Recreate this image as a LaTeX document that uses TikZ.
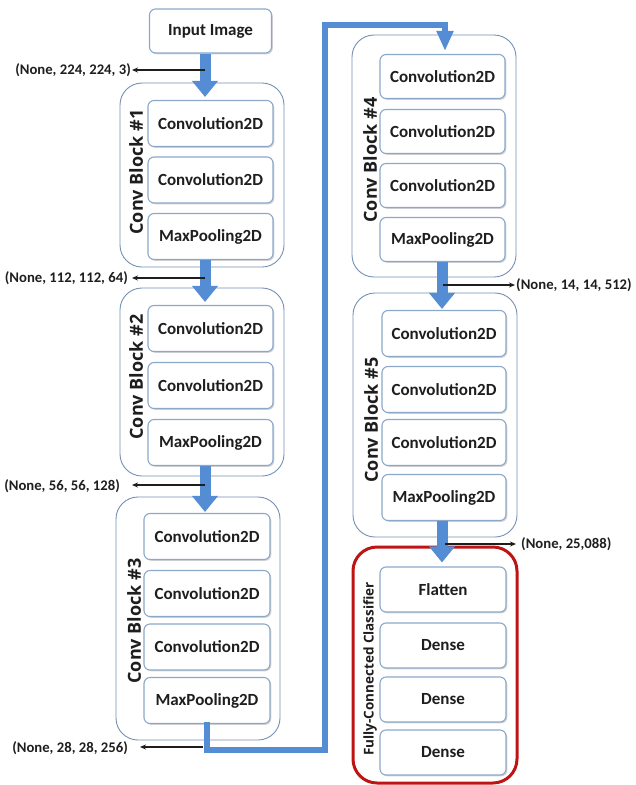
\documentclass[tikz,border=0pt]{standalone}
\usepackage{fontspec}
\setmainfont{Carlito}
\newfontfamily\sidefont{Open Sans}
\usetikzlibrary{arrows.meta,shadows}
\definecolor{flowblue}{RGB}{84,141,212}
\definecolor{blockline}{RGB}{115,145,180}
\definecolor{boxline}{RGB}{140,168,200}
\definecolor{txt}{RGB}{30,30,30}
\definecolor{clsred}{RGB}{190,20,20}
\begin{document}
\begin{tikzpicture}[x=1pt,y=-1pt,
  layer/.style={draw=boxline, line width=1.1pt, fill=white, rounded corners=6pt,
    text=txt, inner sep=0pt, font=\bfseries\fontsize{17}{20}\selectfont,
    drop shadow={shadow xshift=1.3pt, shadow yshift=-1.3pt, opacity=0.35, fill=gray}},
  cblock/.style={draw=blockline, line width=0.9pt, rounded corners=22pt, inner sep=0pt},
  clsblock/.style={draw=clsred, line width=3pt, rounded corners=24pt, inner sep=0pt},
  sidelab/.style={rotate=90, text=txt, inner sep=0pt, font=\sidefont\bfseries\fontsize{18}{20}\selectfont},
  smallside/.style={rotate=90, text=txt, inner sep=0pt, font=\sidefont\bfseries\fontsize{13.5}{15}\selectfont},
  dimlbl/.style={text=txt, inner sep=0pt, font=\bfseries\fontsize{14.7}{18}\selectfont},
  flow/.style={draw=flowblue, line width=11pt, -{Triangle[width=25pt,length=16pt]}},
  flowthin/.style={draw=flowblue, line width=6pt, -{Triangle[width=16pt,length=20pt]}},
  dimarrow/.style={draw=txt, line width=1.2pt, -{Stealth[length=6pt,width=5pt]}}
]
\useasboundingbox (0,0) rectangle (635,785);

% ---------- left column ----------
\node[layer, minimum width=122, minimum height=44] (inp) at (210.5,31) {Input Image};

\node[cblock, minimum width=164, minimum height=184] (blk1) at (202,175) {};
\node[sidelab] (lab1) at (136,172) {Conv Block \#1};
\node[layer, minimum width=125, minimum height=46] (b1c1) at (210.5,123.5) {Convolution2D};
\node[layer, minimum width=125, minimum height=46] (b1c2) at (210.5,180) {Convolution2D};
\node[layer, minimum width=125, minimum height=46] (b1m) at (210.5,236.5) {MaxPooling2D};

\node[cblock, minimum width=164, minimum height=188] (blk2) at (202,382) {};
\node[sidelab] (lab2) at (136,377) {Conv Block \#2};
\node[layer, minimum width=125, minimum height=46] (b2c1) at (210.5,328.5) {Convolution2D};
\node[layer, minimum width=125, minimum height=46] (b2c2) at (210.5,385.5) {Convolution2D};
\node[layer, minimum width=125, minimum height=46] (b2m) at (210.5,442.5) {MaxPooling2D};

\node[cblock, minimum width=164, minimum height=243] (blk3) at (198,618.5) {};
\node[sidelab] (lab3) at (134,621) {Conv Block \#3};
\node[layer, minimum width=126, minimum height=46] (b3c1) at (207,536.5) {Convolution2D};
\node[layer, minimum width=126, minimum height=46] (b3c2) at (207,593.5) {Convolution2D};
\node[layer, minimum width=126, minimum height=46] (b3c3) at (207,647) {Convolution2D};
\node[layer, minimum width=126, minimum height=46] (b3m) at (207,700.5) {MaxPooling2D};

% ---------- right column ----------
\node[cblock, minimum width=164, minimum height=242] (blk4) at (434,156) {};
\node[sidelab] (lab4) at (370,160) {Conv Block \#4};
\node[layer, minimum width=125, minimum height=44] (b4c1) at (442.5,76.5) {Convolution2D};
\node[layer, minimum width=125, minimum height=44] (b4c2) at (442.5,131.5) {Convolution2D};
\node[layer, minimum width=125, minimum height=44] (b4c3) at (442.5,185.5) {Convolution2D};
\node[layer, minimum width=125, minimum height=44] (b4m) at (442.5,239.5) {MaxPooling2D};

\node[cblock, minimum width=164, minimum height=244] (blk5) at (435,415) {};
\node[sidelab] (lab5) at (371,420) {Conv Block \#5};
\node[layer, minimum width=124, minimum height=46] (b5c1) at (444,333.5) {Convolution2D};
\node[layer, minimum width=124, minimum height=46] (b5c2) at (444,389.5) {Convolution2D};
\node[layer, minimum width=124, minimum height=46] (b5c3) at (444,442.5) {Convolution2D};
\node[layer, minimum width=124, minimum height=46] (b5m) at (444,497.5) {MaxPooling2D};

\node[clsblock, minimum width=164, minimum height=236] (cls) at (435,665) {};
\node[smallside] (labc) at (370,669) {Fully-Connected Classifier};
\node[layer, minimum width=126, minimum height=45] (fl) at (443,589.5) {Flatten};
\node[layer, minimum width=126, minimum height=45] (d1) at (443,645.5) {Dense};
\node[layer, minimum width=126, minimum height=45] (d2) at (443,699.5) {Dense};
\node[layer, minimum width=126, minimum height=45] (d3) at (443,752.5) {Dense};

% ---------- flow arrows ----------
\coordinate (lx) at (205,0);
\coordinate (rx) at (442,0);
\draw[flow, shorten >=3pt] (inp.south -| lx) -- (b1c1.north -| lx);
\draw[flow, shorten >=3pt] (b1m.south -| lx) -- (b2c1.north -| lx);
\draw[flow, shorten >=1pt] (b2m.south -| lx) -- (b3c1.north -| lx);
\draw[flow, shorten >=1pt] (b4m.south -| rx) -- (b5c1.north -| rx);
\draw[flow, shorten >=4pt] (b5m.south -| rx) -- (fl.north -| rx);

\coordinate (p1) at (207,750);
\coordinate (p2) at (325,750);
\coordinate (p3) at (325,25);
\coordinate (p4) at (445,25);
\draw[flowthin, line join=miter, shorten >=3pt, shorten <=-2pt] (b3m.south -| p1) -- (p1) -- (p2) -- (p3) -- (p4) -- (b4c1.north -| p4);

% ---------- shape labels ----------
\node[dimlbl, anchor=east] (t1) at (131,70) {(None, 224, 224, 3)};
\node[dimlbl, anchor=east] (t2) at (128,278) {(None, 112, 112, 64)};
\node[dimlbl, anchor=east] (t3) at (120,486) {(None, 56, 56, 128)};
\node[dimlbl, anchor=east] (t4) at (128,748) {(None, 28, 28, 256)};
\node[dimlbl, anchor=west] (t5) at (516,285) {(None, 14, 14, 512)};
\node[dimlbl, anchor=west] (t6) at (521,544) {(None, 25,088)};

\coordinate (s1) at (205,70);
\coordinate (s2) at (205,278);
\coordinate (s3) at (205,485);
\coordinate (s4) at (203,747);
\coordinate (s5) at (443,285);
\coordinate (s6) at (445,544);
\draw[dimarrow, shorten >=1pt] (s1) -- (s1 -| t1.east);
\draw[dimarrow, shorten >=4pt] (s2) -- (s2 -| t2.east);
\draw[dimarrow, shorten >=12pt] (s3) -- (s3 -| t3.east);
\draw[dimarrow, shorten >=12pt] (s4) -- (s4 -| t4.east);
\draw[dimarrow, shorten >=1pt] (s5) -- (s5 -| t5.west);
\draw[dimarrow, shorten >=5pt] (s6) -- (s6 -| t6.west);
\end{tikzpicture}
\end{document}
